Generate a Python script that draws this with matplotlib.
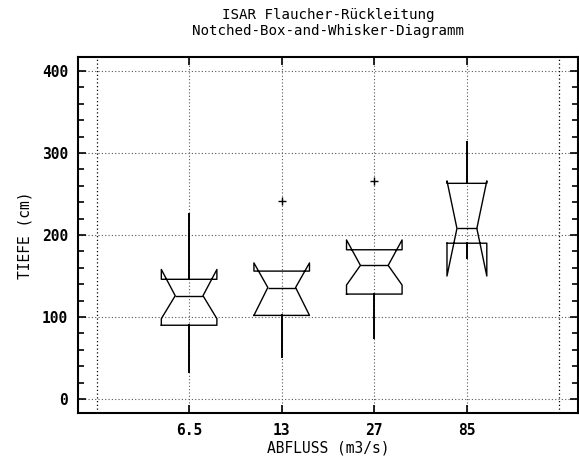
import matplotlib

matplotlib.use("Agg")
import matplotlib.pyplot as plt
from matplotlib.ticker import MultipleLocator

# values (cm)
labels = ["6.5", "13", "27", "85"]
medians = [126, 136, 163, 208]
q1 = [90, 102, 128, 190]
q3 = [146, 156, 182, 263]
whis_lo = [33, 51, 75, 172]
whis_hi = [226, 156, 182, 313]
notch_lo = [98, 102, 139, 150]
notch_hi = [158, 166, 194, 266]
outliers = [[], [241], [266], []]
box_widths = [0.6, 0.6, 0.6, 0.43]

positions = list(range(1, len(labels) + 1))
edge_grid = [0, len(labels) + 1]

stats = []
for i in range(len(labels)):
    stats.append({
        "med": medians[i], "q1": q1[i], "q3": q3[i],
        "whislo": whis_lo[i], "whishi": whis_hi[i],
        "cilo": notch_lo[i], "cihi": notch_hi[i],
        "fliers": outliers[i], "label": labels[i],
    })

plt.rcParams["font.family"] = "DejaVu Sans Mono"

fig = plt.figure(figsize=(5.79, 4.59), dpi=100)
ax = fig.add_axes([0.1347, 0.1002, 0.8636, 0.7756])

line = dict(color="black", linewidth=1.0)
ax.bxp(stats, positions=positions, widths=box_widths, shownotches=True,
       showcaps=False, boxprops=line, medianprops=line,
       whiskerprops=dict(color="black", linewidth=1.4),
       flierprops=dict(marker="+", markeredgecolor="black", markersize=6,
                       markeredgewidth=1.0))

ax.set_xlim(-0.2, len(labels) + 1.2)
ax.set_ylim(-17, 417)
ax.set_xticks(positions)
ax.set_xticklabels(labels)
ax.yaxis.set_major_locator(MultipleLocator(100))
ax.yaxis.set_minor_locator(MultipleLocator(20))

ax.grid(True, which="major", linestyle=(0, (1, 2)), color="#555555",
        linewidth=0.8)
for x in edge_grid:
    ax.axvline(x, linestyle=(0, (1, 2)), color="black", linewidth=0.9)

ax.tick_params(which="both", direction="in", top=True, right=True,
               width=1.2, labelsize=10.5, pad=7)
ax.tick_params(which="major", length=6)
ax.tick_params(which="minor", length=4)
for lab in ax.get_xticklabels() + ax.get_yticklabels():
    lab.set_fontweight("bold")
for sp in ax.spines.values():
    sp.set_linewidth(1.5)

ax.set_ylabel("TIEFE (cm)", fontsize=10.5, labelpad=7)
ax.set_xlabel("ABFLUSS (m3/s)", fontsize=10.5, labelpad=2)
ax.set_title("ISAR Flaucher-Rückleitung\nNotched-Box-and-Whisker-Diagramm",
             fontsize=10.2, pad=16, linespacing=1.2)

fig.savefig("out.png", dpi=100)
